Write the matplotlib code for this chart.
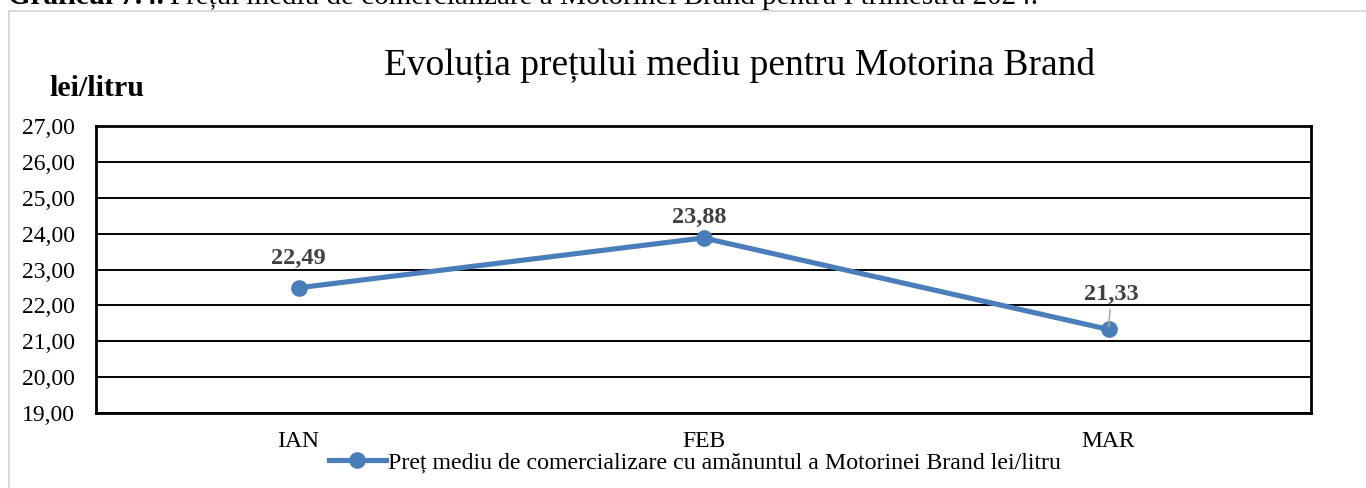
import matplotlib.pyplot as plt
from matplotlib.lines import Line2D

months = ['IAN', 'FEB', 'MAR']
prices = [22.49, 23.88, 21.33]
y_ticks = [19, 20, 21, 22, 23, 24, 25, 26, 27]
# how far each data label sits above its point (points), as in the source chart
label_offsets = [21, 15, 25]

plt.rcParams['font.family'] = ['Liberation Serif', 'DejaVu Serif']

W, H = 1366, 488
fig = plt.figure(figsize=(W / 100, H / 100), dpi=100)

# outer chart border (light gray, left and top visible)
fig.add_artist(Line2D([9 / W, 9 / W], [0, 1 - 11 / H],
                      transform=fig.transFigure, color='#d4d4d4', lw=1.2))
fig.add_artist(Line2D([9 / W, 1], [1 - 11 / H, 1 - 11 / H],
                      transform=fig.transFigure, color='#d4d4d4', lw=1.2))

# document caption, cut off at the top edge like in the screenshot
fig.text(8 / W, 1 - 4 / H, 'Graficul 7.4.', fontsize=21, fontweight='bold',
         ha='left', va='baseline')
fig.text(170 / W, 1 - 4 / H,
         'Prețul mediu de comercializare a Motorinei Brand pentru I trimestru 2024.',
         fontsize=21, ha='left', va='baseline')

ax = fig.add_axes([96 / W, 75 / H, 1215 / W, 287 / H])
color = '#4A7EBB'
x = list(range(len(months)))
ax.plot(x, prices, color=color, lw=3.7, marker='o', markersize=11, zorder=3,
        solid_capstyle='round')

ax.set_xlim(-0.5, len(months) - 0.5)
ax.set_ylim(19, 27)
ax.set_yticks(y_ticks)
ax.set_yticklabels([f'{v:.2f}'.replace('.', ',') for v in y_ticks], fontsize=17)
ax.set_xticks(x)
ax.set_xticklabels(months, fontsize=17)
ax.tick_params(axis='y', length=0, pad=15)
ax.tick_params(axis='x', length=0, pad=13)
ax.grid(axis='y', color='black', lw=1.4)
ax.set_axisbelow(True)
for s in ax.spines.values():
    s.set_color('black')
    s.set_linewidth(2)

# data labels
for i, v in enumerate(prices):
    lab = f'{v:.2f}'.replace('.', ',')
    kw = dict(textcoords='offset points', ha='center', va='center', fontsize=17.5,
              fontweight='bold', color='#404040')
    if i == len(prices) - 1:
        # leader line for the last label
        ax.annotate(lab, (i, v), xytext=(2, label_offsets[i]),
                    arrowprops=dict(arrowstyle='-', color='#a6a6a6', lw=1.1,
                                    shrinkA=1, shrinkB=2), **kw)
    else:
        ax.annotate(lab, (i, v), xytext=(-3 if i == 1 else 0, label_offsets[i]), **kw)

fig.text(49 / W, 1 - 89 / H, 'lei/litru', fontsize=21.5, fontweight='bold',
         ha='left', va='center')
fig.text(740 / W, 1 - 75 / H, 'Evoluția prețului mediu pentru Motorina Brand',
         fontsize=27, ha='center', va='baseline')

handle = Line2D([], [], color=color, lw=3.7, marker='o', markersize=11)
fig.legend([handle],
           ['Preț mediu de comercializare cu amănuntul a Motorinei Brand lei/litru'],
           loc='center', bbox_to_anchor=(695 / W, 1 - 462 / H), frameon=False,
           fontsize=17.2, handlelength=2.4, handletextpad=0.1,
           borderpad=0, borderaxespad=0)

fig.savefig('out.png', dpi=100)
